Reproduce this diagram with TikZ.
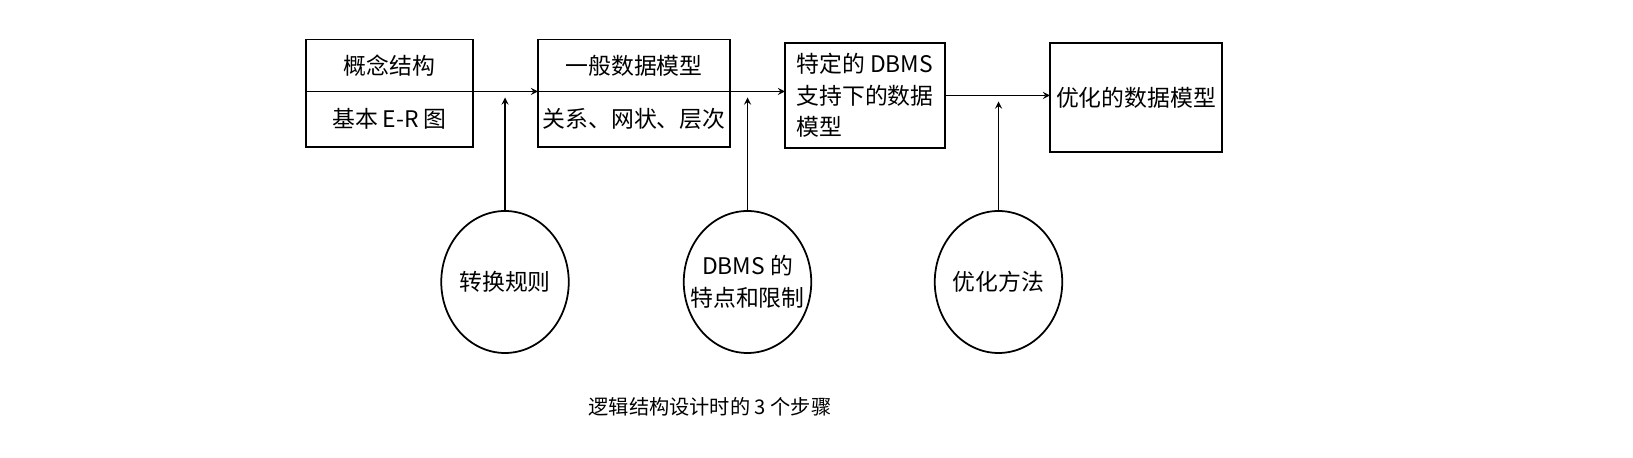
\documentclass[tikz,border=0pt]{standalone}
\usepackage{fontspec}
\newfontfamily\cjk{Noto Sans CJK SC}
\usetikzlibrary{positioning,shapes.geometric}
\tikzset{
	box/.style={draw, line width=1pt, outer sep=0pt, inner sep=1pt, font={\cjk\fontsize{13pt}{18pt}\selectfont}},
	rulecirc/.style={draw, ellipse, line width=1pt, outer sep=0pt, minimum width=2.55cm, minimum height=2.84cm},
	circtext/.style={font={\cjk\fontsize{13pt}{18pt}\selectfont}, align=center},
}
\begin{document}
\begin{tikzpicture}[>=stealth, line width=.8pt]
		\useasboundingbox (0,0) rectangle (32.66,9.16);
	
		\node[box, minimum width=3.34cm, minimum height=1.04cm] at (7.79,7.85) (gn) {概念结构};
		\node[box, minimum width=3.34cm, minimum height=1.11cm, below=0pt of gn] (er) {基本 E-R 图};
	
		\node[box, minimum width=3.84cm, minimum height=1.04cm] at (12.68,7.85) (gm) {一般数据模型};
		\node[box, minimum width=3.84cm, minimum height=1.11cm, below=0pt of gm] (rel) {关系、网状、层次};
	
		\node[box, minimum width=3.2cm, minimum height=2.1cm, align=left] at (17.30,7.25) (sp) {特定的 DBMS\\支持下的数据\\模型};
		\node[box, minimum width=3.44cm, minimum height=2.18cm] at (22.72,7.21) (op) {优化的数据模型};
	
		\node[rulecirc, label={[circtext]center:转换规则}] at (10.10,3.52) (tr) {};
		\node[rulecirc, label={[circtext]center:DBMS 的\\特点和限制}] at (14.95,3.52) (lim) {};
		\node[rulecirc, label={[circtext]center:优化方法}] at (19.97,3.52) (om) {};
	
		\draw[->] (gn.south east) -- (gm.south west);
		\draw[->] (gm.south east) -- (sp.west |- gm.south east);
		\draw[->] (sp.east) -- (op.west |- sp.east);
	
		\foreach \c/\t in {tr/gn.south, lim/gm.south, om/sp.east}{
			\draw[->, shorten >=.12cm] (\c.north) -- (\c.north |- \t);
		}
	
		\node[font={\cjk\fontsize{11.5pt}{14pt}\selectfont}] at (14.2,1.02) (cap) {逻辑结构设计时的 3 个步骤};
	
\end{tikzpicture}
\end{document}
